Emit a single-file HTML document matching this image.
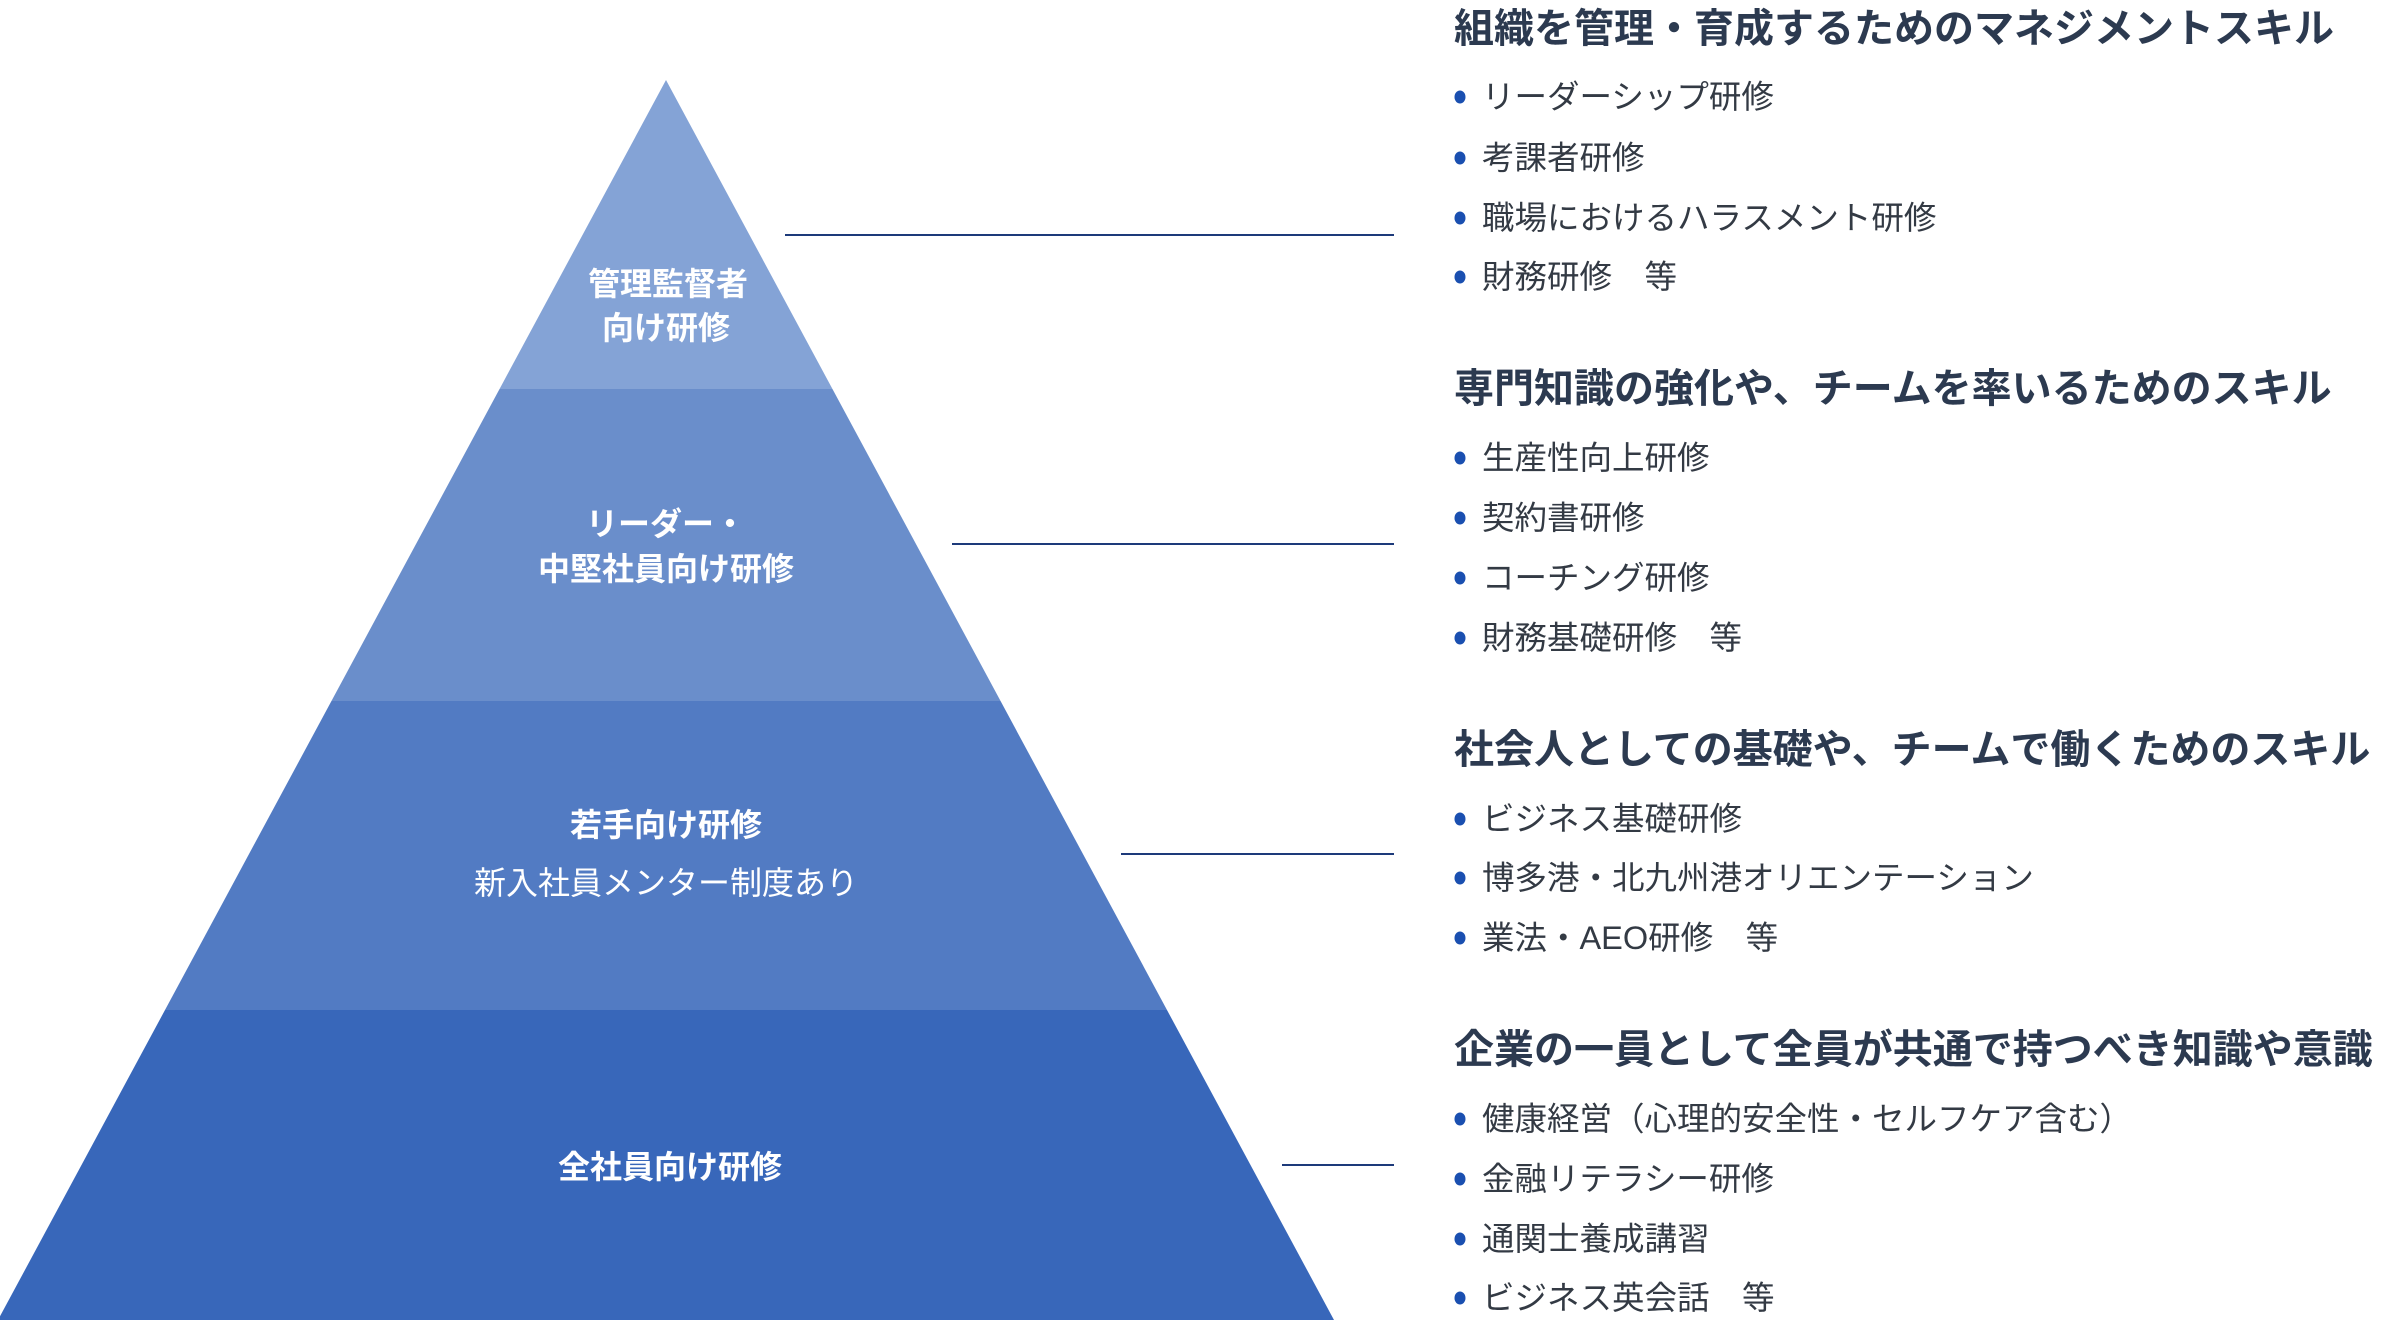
<!DOCTYPE html>
<html><head><meta charset="utf-8"><style>
html,body{margin:0;padding:0;background:#fff;width:2400px;height:1320px;overflow:hidden}
svg{display:block}
text{font-family:"Liberation Sans","Noto Sans CJK JP",sans-serif}
.h{font-size:40px;font-weight:bold;fill:#2c3a50}
.i{font-size:32.5px;fill:#333a44}
.p{font-size:32px;font-weight:bold;fill:#fff}
</style></head><body>
<svg width="2400" height="1320" viewBox="0 0 2400 1320">
<defs><clipPath id="tri"><polygon points="666,80 1334,1320 -2,1320"/></clipPath></defs>
<g clip-path="url(#tri)">
<rect x="-10" y="0" width="1400" height="389" fill="#84a3d6"/>
<rect x="-10" y="389" width="1400" height="312" fill="#6a8ecb"/>
<rect x="-10" y="701" width="1400" height="309" fill="#527bc3"/>
<rect x="-10" y="1010" width="1400" height="310" fill="#3867ba"/>
</g>
<g stroke="#1d3a7a" stroke-width="2">
<line x1="785" y1="235" x2="1394" y2="235"/>
<line x1="952" y1="544" x2="1394" y2="544"/>
<line x1="1121" y1="854" x2="1394" y2="854"/>
<line x1="1282" y1="1165" x2="1394" y2="1165"/>
</g>
<g text-anchor="middle" dominant-baseline="central">
<text class="p" x="668" y="284">管理監督者</text>
<text class="p" x="666" y="328">向け研修</text>
<text class="p" x="666" y="524">リーダー・</text>
<text class="p" x="666" y="569">中堅社員向け研修</text>
<text class="p" x="666" y="825">若手向け研修</text>
<text class="p" x="666" y="883" style="font-weight:normal">新入社員メンター制度あり</text>
<text class="p" x="670" y="1167">全社員向け研修</text>
</g>
<g dominant-baseline="central">
<text class="h" x="1454" y="29">組織を管理・育成するためのマネジメントスキル</text>
<text class="h" x="1454" y="389">専門知識の強化や、チームを率いるためのスキル</text>
<text class="h" x="1454" y="750">社会人としての基礎や、チームで働くためのスキル</text>
<text class="h" x="1454" y="1050">企業の一員として全員が共通で持つべき知識や意識</text>
<text class="i" x="1482" y="97">リーダーシップ研修</text>
<text class="i" x="1482" y="158">考課者研修</text>
<text class="i" x="1482" y="218">職場におけるハラスメント研修</text>
<text class="i" x="1482" y="277">財務研修　等</text>
<text class="i" x="1482" y="458">生産性向上研修</text>
<text class="i" x="1482" y="518">契約書研修</text>
<text class="i" x="1482" y="578">コーチング研修</text>
<text class="i" x="1482" y="638">財務基礎研修　等</text>
<text class="i" x="1482" y="819">ビジネス基礎研修</text>
<text class="i" x="1482" y="878">博多港・北九州港オリエンテーション</text>
<text class="i" x="1482" y="938">業法・AEO研修　等</text>
<text class="i" x="1482" y="1119">健康経営（心理的安全性・セルフケア含む）</text>
<text class="i" x="1482" y="1179">金融リテラシー研修</text>
<text class="i" x="1482" y="1239">通関士養成講習</text>
<text class="i" x="1482" y="1298">ビジネス英会話　等</text>
</g>
<g fill="#1a4fb0">
<ellipse cx="1460" cy="97" rx="5.5" ry="6.5"/><ellipse cx="1460" cy="158" rx="5.5" ry="6.5"/>
<ellipse cx="1460" cy="218" rx="5.5" ry="6.5"/><ellipse cx="1460" cy="277" rx="5.5" ry="6.5"/>
<ellipse cx="1460" cy="458" rx="5.5" ry="6.5"/><ellipse cx="1460" cy="518" rx="5.5" ry="6.5"/>
<ellipse cx="1460" cy="578" rx="5.5" ry="6.5"/><ellipse cx="1460" cy="638" rx="5.5" ry="6.5"/>
<ellipse cx="1460" cy="819" rx="5.5" ry="6.5"/><ellipse cx="1460" cy="878" rx="5.5" ry="6.5"/>
<ellipse cx="1460" cy="938" rx="5.5" ry="6.5"/>
<ellipse cx="1460" cy="1119" rx="5.5" ry="6.5"/><ellipse cx="1460" cy="1179" rx="5.5" ry="6.5"/>
<ellipse cx="1460" cy="1239" rx="5.5" ry="6.5"/><ellipse cx="1460" cy="1298" rx="5.5" ry="6.5"/>
</g>
</svg>
</body></html>
